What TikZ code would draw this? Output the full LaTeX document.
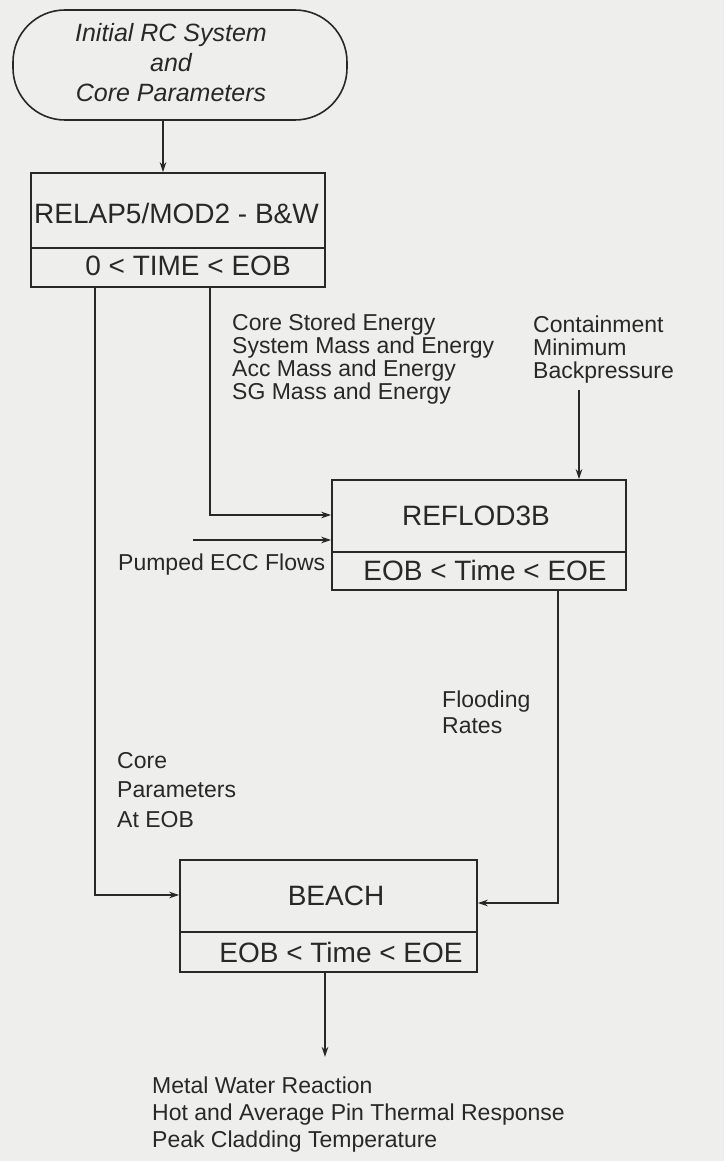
\documentclass[tikz,border=0pt]{standalone}
\usepackage{fontspec}
\setmainfont{Liberation Sans}
\usetikzlibrary{arrows.meta}
\definecolor{paper}{RGB}{238,238,236}
\definecolor{ink}{RGB}{40,40,40}
\begin{document}
\begin{tikzpicture}[x=1pt,y=-1pt,
 every node/.style={text=ink},
 boxnode/.style={draw=ink, line width=1.6pt, rectangle, inner sep=0pt},
 conn/.style={draw=ink, line width=1.5pt},
 arr/.style={conn, -{Stealth[length=10pt,width=6.5pt]}},
 title/.style={font=\fontsize{28}{30}\selectfont, anchor=base, inner sep=0pt},
 lbl/.style={font=\fontsize{23}{23}\selectfont, anchor=base west, inner sep=0pt, align=left},
]
\fill[paper] (0,0) rectangle (724,1161);
\useasboundingbox (0,0) rectangle (724,1161);

% start terminal
\node[boxnode, rounded corners=52pt, minimum width=334pt, minimum height=110pt] (init) at (180,65) {};
\node[font=\itshape\fontsize{25}{30}\selectfont, align=center, anchor=base, inner sep=0pt] (initt) at (171,102) {Initial RC System\\and\\Core Parameters};

% RELAP5 box
\node[boxnode, minimum width=294pt, minimum height=114pt] (relap) at (178,230) {};
\draw[conn] ([yshift=-18pt]relap.west) -- ([yshift=-18pt]relap.east);
\node[title] (relapt) at (176.5,223) {RELAP5/MOD2 - B\&W};
\node[title] (relapr) at (188,275) {0 < TIME < EOB};

% REFLOD3B box
\node[boxnode, minimum width=294pt, minimum height=110pt] (reflod) at (479,535) {};
\draw[conn] ([yshift=-17pt]reflod.west) -- ([yshift=-17pt]reflod.east);
\node[title] (reflodt) at (476,525) {REFLOD3B};
\node[title] (reflodr) at (485,580) {EOB < Time < EOE};

% BEACH box
\node[boxnode, minimum width=297pt, minimum height=112pt] (beach) at (328.5,916) {};
\draw[conn] ([yshift=-16pt]beach.west) -- ([yshift=-16pt]beach.east);
\node[title] (beacht) at (336,905) {BEACH};
\node[title] (beachr) at (341,962) {EOB < Time < EOE};

% connectors
\coordinate (a1) at (163,0);
\draw[arr] (init.south -| a1) -- (relap.north -| a1);
\coordinate (lft) at (95,895);
\draw[arr] (relap.south -| lft) |- (beach.west |- lft);
\coordinate (mid) at (210,515);
\draw[arr] (relap.south -| mid) |- (reflod.west |- mid);
\coordinate (ecc) at (193,540);
\draw[arr] (ecc) -- (reflod.west |- ecc);
\coordinate (cont) at (579,390);
\draw[arr] (cont) -- (reflod.north -| cont);
\coordinate (fl) at (558,903);
\draw[arr] (reflod.south -| fl) |- (beach.east |- fl);
\coordinate (outc) at (325,1057);
\draw[arr] (beach.south -| outc) -- (outc);

% labels (anchored at the baseline of their last line)
\node[lbl] (l1) at (232,399) {Core Stored Energy\\System Mass and Energy\\Acc Mass and Energy\\SG Mass and Energy};
\node[lbl] (l2) at (533,378) {Containment\\Minimum\\Backpressure};
\node[lbl] (l3) at (118,570) {Pumped ECC Flows};
\node[lbl, font=\fontsize{23}{29.5}\selectfont] (l4) at (117,827) {Core\\Parameters\\At EOB};
\node[lbl, font=\fontsize{23}{26}\selectfont] (l5) at (442,733) {Flooding\\Rates};
\node[lbl, font=\fontsize{23}{27}\selectfont] (l6) at (152,1147) {Metal Water Reaction\\Hot and Average Pin Thermal Response\\Peak Cladding Temperature};
\end{tikzpicture}
\end{document}
